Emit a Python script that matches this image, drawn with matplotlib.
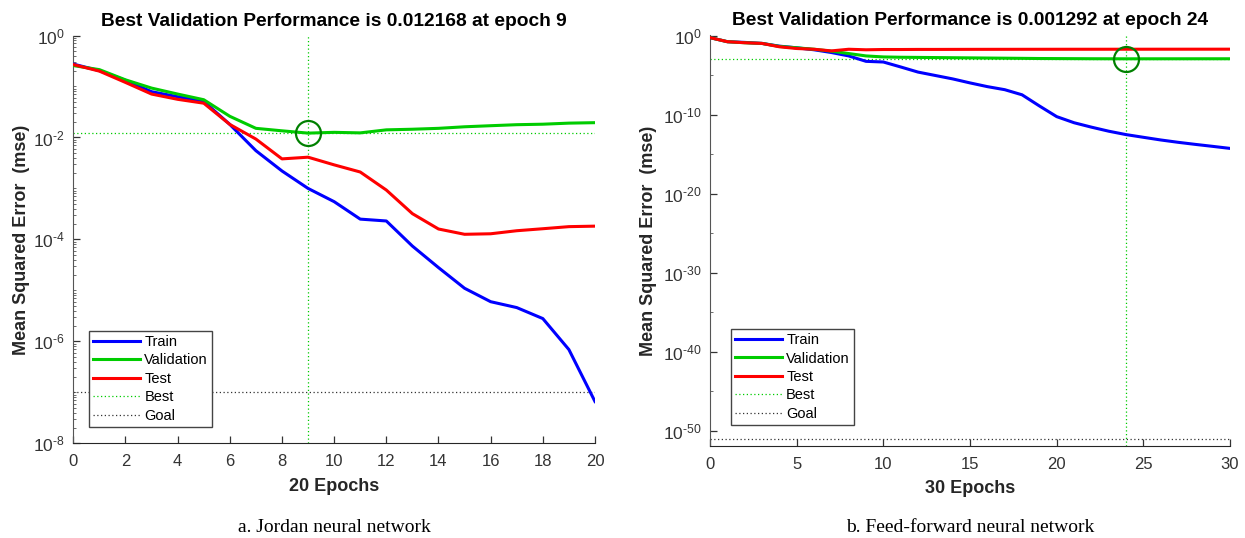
import matplotlib
matplotlib.use("Agg")
import matplotlib.pyplot as plt
import matplotlib.ticker as mticker
import numpy as np

plt.rcParams['font.family'] = ['Liberation Sans', 'DejaVu Sans']
plt.rcParams['mathtext.fontset'] = 'custom'
plt.rcParams['mathtext.rm'] = 'Liberation Sans'
plt.rcParams['mathtext.it'] = 'Liberation Sans'
plt.rcParams['axes.unicode_minus'] = False

# ---------------- data: Jordan network ----------------
epochs_a = list(range(0, 21))
train_a = [0.275, 0.204, 0.132, 0.079, 0.063, 0.051, 0.018, 5.5e-3, 2.2e-3, 1.0e-3,
           5.5e-4, 2.5e-4, 2.3e-4, 7.4e-5, 2.8e-5, 1.1e-5, 6.0e-6, 4.6e-6, 2.8e-6,
           6.9e-7, 6.6e-8]
val_a = [0.257, 0.214, 0.135, 0.093, 0.071, 0.055, 0.026, 0.0151, 0.0135, 0.012168,
         0.0126, 0.0123, 0.0141, 0.0145, 0.0151, 0.0162, 0.0170, 0.0178, 0.0182,
         0.0191, 0.0195]
test_a = [0.269, 0.200, 0.120, 0.071, 0.056, 0.047, 0.018, 9.3e-3, 3.8e-3, 4.1e-3,
          2.9e-3, 2.1e-3, 9.3e-4, 3.2e-4, 1.6e-4, 1.26e-4, 1.29e-4, 1.48e-4, 1.62e-4,
          1.78e-4, 1.82e-4]
best_epoch_a = 9
best_perf_a = 0.012168
goal_a = 1e-7
title_a = "Best Validation Performance is 0.012168 at epoch 9"
xlabel_a = "20 Epochs"
caption_a = "a. Jordan neural network"
xticks_a = list(range(0, 21, 2))
ylim_a = (1e-8, 1e0)

# ---------------- data: Feed-forward network ----------------
epochs_b = list(range(0, 31))
train_b = [0.62, 0.19, 0.155, 0.115, 0.052, 0.032, 0.018, 8.1e-3, 3.0e-3, 6.2e-4,
           5.1e-4, 1.2e-4, 2.7e-5, 1.0e-5, 3.7e-6, 1.15e-6, 3.9e-7, 1.6e-7, 3.6e-8,
           1.4e-9, 6.2e-11, 1.05e-11, 2.9e-12, 8.9e-13, 3.3e-13, 1.5e-13, 6.9e-14,
           3.5e-14, 1.9e-14, 1.07e-14, 5.9e-15]
val_b = [0.62, 0.19, 0.14, 0.115, 0.048, 0.032, 0.021, 0.012, 6.0e-3, 3.0e-3,
         2.24e-3, 2.04e-3, 1.95e-3, 1.86e-3, 1.78e-3, 1.70e-3, 1.62e-3, 1.55e-3,
         1.48e-3, 1.41e-3, 1.38e-3, 1.35e-3, 1.32e-3, 1.305e-3, 1.292e-3, 1.297e-3,
         1.30e-3, 1.303e-3, 1.306e-3, 1.309e-3, 1.312e-3]
test_b = [0.62, 0.19, 0.14, 0.115, 0.043, 0.026, 0.021, 0.013, 0.021, 0.018,
          0.0195, 0.0195, 0.020, 0.020, 0.0202, 0.0204, 0.0205, 0.0206, 0.0207,
          0.0208, 0.0209, 0.021, 0.021, 0.0211, 0.0212, 0.0212, 0.0213, 0.0213,
          0.0214, 0.0214, 0.0215]
best_epoch_b = 24
best_perf_b = 0.001292
goal_b = 1e-51
title_b = "Best Validation Performance is 0.001292 at epoch 24"
xlabel_b = "30 Epochs"
caption_b = "b. Feed-forward neural network"
xticks_b = list(range(0, 31, 5))
ylim_b = (10 ** -51.9, 10 ** 0.13)

series_labels = ["Train", "Validation", "Test", "Best", "Goal"]

C_TRAIN = (0, 0, 1)
C_VAL = (0, 0.8, 0)
C_TEST = (1, 0, 0)
C_CIRC = (0, 0.5, 0)
AXC = '#262626'


def exp_label(v, p):
    e = int(round(np.log10(v)))
    if e < 0:
        return r'$10^{\text{-%d}}$' % (-e)
    return r'$10^{%d}$' % e


def draw(ax, ep, tr, va, te, best_ep, best_perf, goal, title, xlabel, xticks, ylim,
         major_exps, minor_exps, legend_anchor, ylab_x):
    ax.plot(ep, tr, color=C_TRAIN, lw=2.2, label=series_labels[0], zorder=3)
    ax.plot(ep, va, color=C_VAL, lw=2.2, label=series_labels[1], zorder=3)
    ax.plot(ep, te, color=C_TEST, lw=2.2, label=series_labels[2], zorder=3)
    ax.axvline(best_ep, color=C_VAL, lw=0.9, ls=(0, (1, 2)), label=series_labels[3], zorder=2)
    ax.axhline(best_perf, color=C_VAL, lw=0.9, ls=(0, (1, 2)), zorder=2)
    ax.axhline(goal, color='#333333', lw=0.9, ls=(0, (1, 2)), label=series_labels[4], zorder=2)
    ax.plot([best_ep], [best_perf], marker='o', ms=18, mfc='none', mec=C_CIRC,
            mew=1.6, zorder=4)
    ax.set_yscale('log')
    ax.set_xlim(ep[0], ep[-1])
    ax.set_ylim(*ylim)
    ax.set_xticks(xticks)
    ax.yaxis.set_major_locator(mticker.FixedLocator([10.0 ** e for e in major_exps]))
    ax.yaxis.set_minor_locator(mticker.FixedLocator(minor_exps))
    ax.yaxis.set_major_formatter(mticker.FuncFormatter(exp_label))
    ax.yaxis.set_minor_formatter(mticker.NullFormatter())
    for s in ['top', 'right']:
        ax.spines[s].set_visible(False)
    ax.spines['left'].set_color('#555555')
    ax.spines['bottom'].set_color(AXC)
    ax.tick_params(axis='both', which='major', direction='in', length=5, width=0.9,
                   labelsize=12, labelcolor='#333333', colors='#333333', pad=8)
    ax.tick_params(axis='y', which='minor', direction='in', length=2.5, width=0.6,
                   colors='#555555')
    ax.tick_params(axis='y', which='major', labelsize=12.5, pad=6)
    ax.set_title(title, fontsize=13.8, fontweight='bold', pad=7)
    ax.set_xlabel(xlabel, fontsize=13, fontweight='bold', labelpad=6, color=AXC)
    ax.set_ylabel("Mean Squared Error  (mse)", fontsize=13, fontweight='bold',
                  color=AXC)
    ax.yaxis.set_label_coords(ylab_x, 0.5)
    leg = ax.legend(loc='lower left', bbox_to_anchor=legend_anchor, fontsize=10.5,
                    fancybox=False, framealpha=1, edgecolor='#444444',
                    handlelength=3.2, handletextpad=0.3, borderpad=0.3,
                    labelspacing=0.3, borderaxespad=0)
    leg.get_frame().set_linewidth(1.0)


fig = plt.figure(figsize=(12.45, 5.38), dpi=100)
ax1 = fig.add_axes([0.0589, 0.176, 0.419, 0.758])
ax2 = fig.add_axes([0.5703, 0.171, 0.4177, 0.764])

minor_a = []
for d in range(-8, 0):
    for s in range(1, 10):
        minor_a.append(s * 10.0 ** d)
draw(ax1, epochs_a, train_a, val_a, test_a, best_epoch_a, best_perf_a, goal_a,
     title_a, xlabel_a, xticks_a, ylim_a, [0, -2, -4, -6, -8], minor_a, (0.03, 0.04),
     -0.083)

minor_b = [10.0 ** e for e in range(-55, 1, 5)]
draw(ax2, epochs_b, train_b, val_b, test_b, best_epoch_b, best_perf_b, goal_b,
     title_b, xlabel_b, xticks_b, ylim_b, [0, -10, -20, -30, -40, -50], minor_b,
     (0.04, 0.051), -0.101)

fig.text(0.2685, 0.012, caption_a, ha='center', va='baseline', fontsize=14,
         family=['Liberation Serif', 'DejaVu Serif'])
fig.text(0.779, 0.012, caption_b, ha='center', va='baseline', fontsize=14,
         family=['Liberation Serif', 'DejaVu Serif'])

fig.savefig("out.png", dpi=100)
